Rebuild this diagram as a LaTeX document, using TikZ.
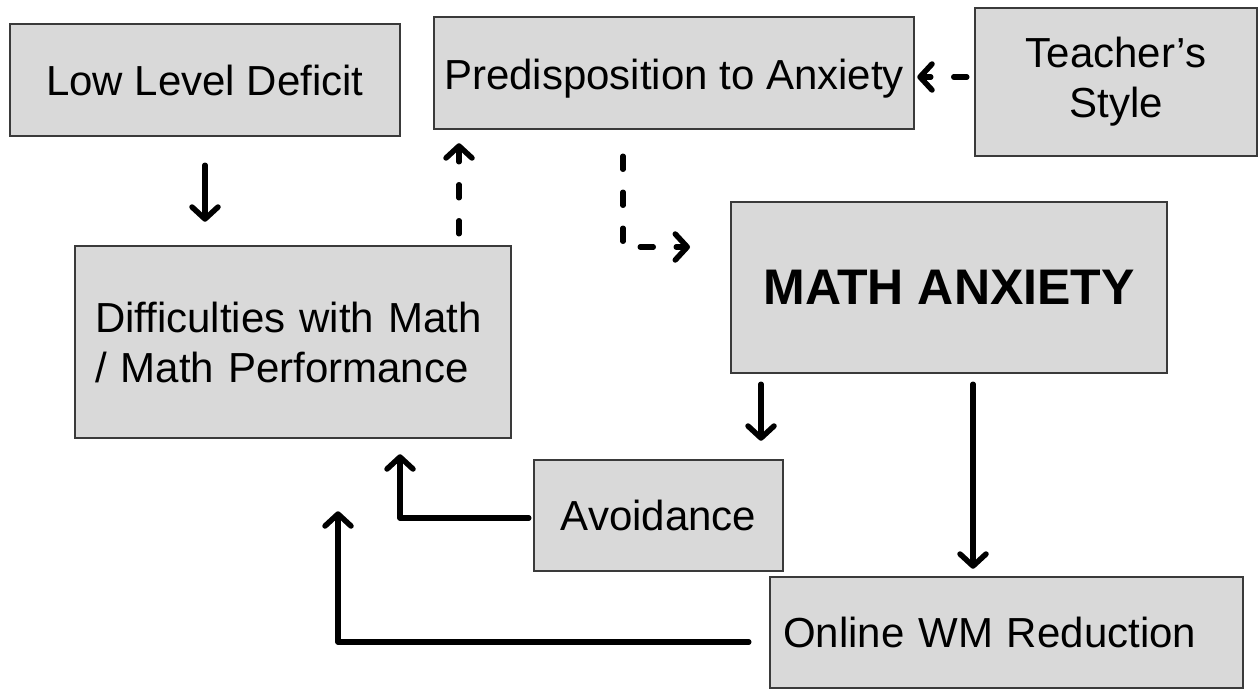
\documentclass[tikz,border=0pt]{standalone}
\usepackage{fontspec}
\setmainfont{Liberation Sans}
\usetikzlibrary{arrows.meta}
\definecolor{boxfill}{HTML}{D9D9D9}
\definecolor{boxline}{HTML}{3A3A3A}
\begin{document}
\begin{tikzpicture}[x=1pt,y=-1pt,
  box/.style={draw=boxline, line width=2.5pt, fill=boxfill, rectangle, inner sep=0pt,
    align=center, font=\fontsize{42}{50}\selectfont},
  arr/.style={line width=5.5pt, line cap=round, line join=round,
    -{Straight Barb[length=12pt,width=26pt,round]}},
  darr/.style={arr, dash pattern=on 13pt off 23pt}]
\useasboundingbox (0,0) rectangle (1258,690);
\node[box, minimum width=390pt, minimum height=112pt] (low) at (205,80) {Low Level Deficit};
\node[box, minimum width=480pt, minimum height=112pt] (pred) at (674,73) {\raisebox{-6pt}[\height][\depth]{Predisposition to Anxiety}};
\node[box, minimum width=282pt, minimum height=148pt] (teach) at (1116,82) {Teacher’s\\Style};
\node[box, minimum height=192pt, inner xsep=20pt, text width=396pt, align=left] (diff) at (293,342) {Difficulties with Math\\/ Math Performance};
\node[box, minimum width=436pt, minimum height=171pt, font=\fontsize{50}{58}\selectfont\bfseries] (math) at (949,287.5) {MATH ANXIETY};
\node[box, minimum width=249pt, minimum height=111pt] (avoid) at (658.5,515.5) {Avoidance};
\node[box, minimum height=111pt, inner xsep=13pt, text width=447pt, align=left] (wm) at (1006.5,632.5) {Online WM Reduction};

% Low -> Diff
\draw[arr, shorten <=28pt, shorten >=23pt] (low.south) -- (low.south |- diff.north);
% Diff -> Pred (dashed)
\coordinate (a2s) at ([xshift=166pt]diff.north);
\draw[darr, shorten <=11pt, shorten >=13pt] (a2s) -- (a2s |- pred.south);
% Pred -> Math (dashed, bent)
\coordinate (a3s) at ([xshift=-51pt]pred.south);
\coordinate (a3e) at (690,247);
\draw[darr, shorten <=26pt] (a3s) |- (a3e);
% Teacher -> Pred (dashed)
\coordinate (a4s) at ([yshift=5pt]teach.west);
\draw[darr, shorten <=7pt, shorten >=2pt] (a4s) -- (a4s -| pred.east);
% Math -> Avoidance
\coordinate (a5s) at ([xshift=-188pt]math.south);
\draw[arr, shorten <=10pt, shorten >=18pt] (a5s) -- (a5s |- avoid.north);
% Math -> WM
\coordinate (a6s) at ([xshift=24pt]math.south);
\draw[arr, shorten <=10pt, shorten >=7pt] (a6s) -- (a6s |- wm.north);
% Avoidance -> Diff
\coordinate (a7s) at ([yshift=-2.5pt]avoid.west);
\coordinate (a7e) at ([xshift=107pt]diff.south);
\draw[arr, shorten <=4pt, shorten >=15pt] (a7s) -| (a7e);
% WM -> Diff
\coordinate (a8s) at ([yshift=-9.5pt]wm.west);
\coordinate (a8e) at ([xshift=45pt]diff.south);
\draw[arr, shorten <=20pt, shorten >=72pt] (a8s) -| (a8e);
\end{tikzpicture}
\end{document}
